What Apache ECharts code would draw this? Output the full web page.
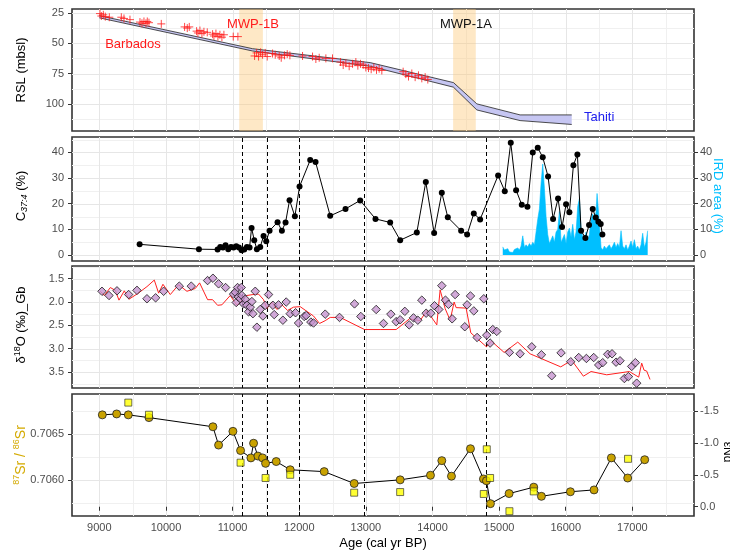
<!DOCTYPE html>
<html>
<head>
<meta charset="utf-8">
<script src="https://cdn.jsdelivr.net/npm/echarts@6/dist/echarts.min.js"></script>
<style>html,body{margin:0;padding:0;background:#fff}#main{width:730px;height:556px}</style>
</head>
<body>
<div id="main"></div>
<script>
// x axis
var ageTicks = [9000,10000,11000,12000,13000,14000,15000,16000,17000];
var ageMinor = [9500,10500,11500,12500,13500,14500,15500,16500,17500];
var mwpBands = [[11100,11455],[14310,14650]];
var dashAges = [11150,11520,12000,12980,14800];

// panel 1: relative sea level
var rslTicks = [25,50,75,100];
var rslMinor = [37.5,62.5,87.5,112.5];
var bandAge = [9000,11300,13065,14315,14666,15315,16090];
var bandTop = [27.2,54.5,66.0,82.5,100.1,109.2,109.2];
var bandBottom = [29.0,56.4,69.0,86.3,105.1,113.9,117.1];
var barbados = [
  [9010,25.5],[9030,27.5],[9060,26.5],[9090,28],[9150,28.5],[9330,28.5],[9370,29.5],[9460,30.5],
  [9610,32.5],[9640,33.5],[9670,32],[9700,33.5],[9720,32],[9745,33],[9930,34],[10280,36.5],
  [10320,37.5],[10350,36.5],[10460,40],[10480,41.5],[10510,39.5],[10540,42],[10570,40.5],[10620,41],
  [10700,42.5],[10720,44],[10750,42],[10780,44.5],[10810,43],[10840,45],[10870,43],[11010,44.5],[11080,44.5],
  [11330,60.5],[11360,58],[11390,61],[11420,57.5],[11450,59.5],[11490,58],[11520,61],[11600,58.5],
  [11640,59.5],[11700,60.5],[11730,62],[11780,60],[11820,59],[11860,60],[12050,60.5],[12200,61],
  [12250,63],[12300,62],[12400,62.5],[12500,62.5],[12620,65.5],[12660,68],[12700,66.5],[12750,69],
  [12800,67],[12850,65.5],[12880,68.5],[12920,67],[12960,68],[13000,70],[13040,70.5],[13080,71.5],
  [13120,70],[13160,72],[13200,71],[13240,72.5],[13560,73.5],[13600,75.5],[13640,77.5],[13690,75],
  [13740,78],[13790,76.5],[13840,79],[13890,78],[13930,80]
];

// panel 2: C37:4 and IRD
var pctTicks = [0,10,20,30,40];
var pctMinor = [5,15,25,35,45];
var c374 = [
  [9605,4.2],[10495,2.3],[10775,2.2],[10815,3.2],[10855,3.0],[10895,3.8],[10935,2.3],[10975,3.2],
  [11015,3.0],[11055,3.4],[11095,3.0],[11135,1.9],[11175,2.2],[11215,3.2],[11255,3.0],[11285,10.6],
  [11325,5.8],[11365,2.3],[11415,3.2],[11465,7.4],[11505,5.4],[11555,9.5],[11675,12.8],[11740,9.5],
  [11795,12.7],[11855,21.4],[11935,15.1],[12005,26.7],[12165,37.0],[12245,36.3],[12465,15.3],[12695,18.0],
  [12915,21.3],[13145,14.1],[13365,12.7],[13515,5.8],[13765,8.8],[13900,28.5],[14025,8.6],[14140,24.3],
  [14230,14.7],[14430,9.5],[14520,8.0],[14620,16.2],[14715,13.9],[14985,31.0],[15085,24.9],[15175,43.8],
  [15255,25.3],[15340,19.6],[15425,18.8],[15505,40.0],[15580,41.8],[15655,38.1],[15735,30.6],[15810,14.1],
  [15885,22.0],[15945,10.9],[16005,19.8],[16055,16.7],[16115,35.0],[16175,39.2],[16230,9.5],[16295,6.7],
  [16350,11.7],[16405,18.0],[16450,14.6],[16490,13.0],[16525,12.1],[16550,8.0]
];
var ird = [
  [15055,3.2],[15080,2.0],[15105,1.5],[15130,2.5],[15155,1.2],[15180,1.8],[15205,1.0],[15230,2.2],
  [15255,1.5],[15280,2.8],[15305,2.0],[15330,3.5],[15355,7.5],[15380,3.0],[15405,4.0],[15430,3.2],
  [15455,4.5],[15480,3.5],[15505,5.0],[15530,4.0],[15555,9.0],[15580,14.0],[15605,18.0],[15630,28.0],
  [15655,35.5],[15680,26.0],[15705,15.0],[15730,8.0],[15755,4.5],[15780,6.0],[15805,7.5],[15830,5.0],
  [15855,9.0],[15880,10.0],[15905,17.0],[15930,5.0],[15955,6.5],[15980,8.0],[16005,4.5],[16030,9.0],
  [16055,10.5],[16080,7.0],[16105,12.0],[16130,6.0],[16155,9.0],[16180,19.0],[16205,22.0],[16230,10.0],
  [16255,7.0],[16280,5.0],[16305,9.0],[16330,6.0],[16355,8.0],[16380,14.0],[16405,16.0],[16430,13.0],
  [16455,17.0],[16470,24.0],[16480,21.0],[16505,12.0],[16530,3.0],[16555,2.0],[16580,3.5],[16605,2.5],
  [16630,3.0],[16655,4.0],[16680,2.5],[16705,3.5],[16730,5.0],[16755,3.0],[16780,4.5],[16805,3.0],
  [16830,9.5],[16855,3.5],[16880,2.5],[16905,4.0],[16930,2.0],[16955,3.5],[16980,5.5],[17005,3.0],
  [17030,6.0],[17055,2.5],[17080,3.5],[17105,2.0],[17130,4.0],[17155,8.5],[17180,3.0],[17205,5.0],[17230,9.5]
];

// panel 3: d18O
var d18Ticks = [1.5,2.0,2.5,3.0,3.5];
var d18Minor = [1.25,1.75,2.25,2.75,3.25,3.75];
var d18Points = [
  [9040,1.77],[9145,1.86],[9265,1.76],[9440,1.84],[9565,1.75],[9715,1.93],[9845,1.91],[9965,1.77],
  [10200,1.66],[10380,1.66],[10625,1.54],[10705,1.49],[10790,1.61],[10895,1.69],[11015,1.83],[11040,1.79],
  [11075,1.69],[11130,1.69],[11055,2.01],[11085,1.89],[11115,1.93],[11140,1.86],[11165,2.04],[11190,1.94],
  [11215,2.07],[11240,2.21],[11265,2.11],[11290,1.99],[11305,2.25],[11340,1.77],[11365,2.54],[11415,2.16],
  [11455,2.30],[11490,2.07],[11540,1.84],[11605,2.07],[11625,2.27],[11690,2.06],[11755,2.39],[11805,2.00],
  [11865,2.25],[11945,2.23],[11990,2.45],[12075,2.31],[12105,2.29],[12175,2.43],[12215,2.45],[12390,2.26],
  [12605,2.33],[12830,2.04],[12925,2.31],[13155,2.16],[13265,2.46],[13375,2.26],[13455,2.42],[13515,2.38],
  [13585,2.20],[13650,2.49],[13715,2.34],[13780,2.39],[13840,1.96],[13905,2.24],[13975,2.24],[14030,2.08],
  [14095,2.16],[14140,1.65],[14195,1.96],[14240,2.05],[14295,2.36],[14340,1.84],[14485,2.53],[14520,2.06],
  [14570,1.87],[14620,2.19],[14670,2.76],[14770,1.93],[14815,2.71],[14865,2.88],[14905,2.59],[14965,2.63],
  [15155,3.08],[15315,3.11],[15490,2.96],[15635,3.13],[15790,3.58],[15930,3.09],[16075,3.28],[16195,3.19],
  [16310,3.21],[16420,3.19],[16495,3.35],[16555,3.30],[16630,3.12],[16695,3.11],[16755,3.29],[16815,3.26],
  [16880,3.64],[16940,3.60],[16990,3.38],[17045,3.30],[17065,3.74]
];
var d18Line = [
  [9015,1.77],[9075,1.86],[9165,1.69],[9240,1.75],[9295,1.96],[9375,1.76],[9445,1.94],[9575,1.82],
  [9715,1.67],[9825,1.53],[9890,1.81],[9955,1.62],[10065,1.84],[10190,1.63],[10315,1.77],[10440,1.71],
  [10505,1.59],[10625,1.95],[10700,1.95],[10775,2.07],[10840,2.06],[10965,1.86],[11065,2.07],[11125,1.98],
  [11215,1.86],[11305,1.84],[11390,1.83],[11465,1.95],[11515,2.14],[11590,2.00],[11665,2.16],[11740,2.06],
  [11825,2.18],[11915,2.11],[12015,2.10],[12115,2.20],[12215,2.30],[12305,2.46],[12390,2.40],[12465,2.33],
  [12615,2.33],[12980,2.59],[13215,2.59],[13455,2.59],[13655,2.36],[13815,2.40],[13915,2.18],[14065,2.49],
  [14115,1.74],[14190,2.14],[14265,2.39],[14325,2.00],[14355,2.12],[14505,2.13],[14575,2.66],[14810,2.96],
  [14885,2.84],[15075,3.08],[15280,2.86],[15465,3.11],[15925,3.39],[16090,3.25],[16265,3.59],[16380,3.49],
  [16615,3.56],[16955,3.49],[17095,3.61],[17140,3.31],[17175,3.46],[17215,3.48],[17265,3.66]
];

// panel 4: Sr isotopes and eNd
var srTicks = [0.7060,0.7065];
var srMinor = [0.70575,0.70625,0.70675];
var ndTicks = [-1.5,-1.0,-0.5,0.0];
var sr = [
  [9045,0.70671],[9260,0.70672],[9435,0.70671],[9745,0.70668],[10705,0.70658],[10790,0.70638],[11005,0.70653],
  [11120,0.70632],[11275,0.70624],[11315,0.70640],[11380,0.70626],[11450,0.70624],[11495,0.70618],[11655,0.70620],
  [11865,0.70611],[12375,0.70609],[12825,0.70596],[13515,0.70600],[13970,0.70605],[14140,0.70621],[14285,0.70604],
  [14570,0.70634],[14765,0.70601],[14810,0.70599],[14870,0.70574],[15150,0.70585],[15520,0.70592],[15635,0.70582],
  [16070,0.70587],[16425,0.70589],[16685,0.70624],[16930,0.70602],[17185,0.70622]
];
var nd = [
  [9435,-1.63],[9745,-1.44],[11120,-0.69],[11495,-0.45],[11865,-0.50],[12825,-0.22],[13515,-0.23],
  [14815,-0.90],[14770,-0.20],[14865,-0.45],[15155,0.07],[15520,-0.24],[16935,-0.75]
];

var font = 'Liberation Sans, Arial, sans-serif';
var grids = [
  {left:72, top:9, width:622, height:122},
  {left:72, top:137, width:622, height:124},
  {left:72, top:266, width:622, height:122},
  {left:72, top:394, width:622, height:122}
];
grids.forEach(function(g){ g.show = true; g.borderColor = '#333'; g.borderWidth = 1.6; g.backgroundColor = 'transparent'; });

var xAxes = [0,1,2,3].map(function(i){
  return {
    type:'value', gridIndex:i, min:8590, max:17925,
    axisLine:{show:false},
    axisTick:{show:i===3, customValues:ageTicks, length:4, lineStyle:{color:'#333'}},
    axisLabel:{show:i===3, customValues:ageTicks, color:'#4d4d4d', fontSize:11, margin:6,
      formatter:function(v){ return String(v); }},
    splitLine:{show:false}
  };
});

function yAxis(grid, min, max, ticks, inverse, fmt, pos){
  return {
    type:'value', gridIndex:grid, min:min, max:max, inverse:!!inverse, position:pos||'left',
    axisLine:{show:false},
    axisTick:{show:true, customValues:ticks, length:4, lineStyle:{color:'#333'}},
    axisLabel:{show:true, customValues:ticks, color:'#4d4d4d', fontSize:11, margin:pos==='right'?6:8, formatter:fmt},
    splitLine:{show:false}
  };
}
var fmt1 = function(v){ return v.toFixed(1); };
var fmt4 = function(v){ return v.toFixed(4); };

var yAxes = [
  yAxis(0, 21.7, 122.5, rslTicks, true),
  yAxis(1, -2.3, 46, pctTicks, false),
  yAxis(1, -2.3, 46, pctTicks, false, null, 'right'),
  yAxis(2, 1.228, 3.843, d18Ticks, true, fmt1),
  yAxis(3, 0.705605, 0.706938, srTicks, false, fmt4),
  yAxis(3, -1.765, 0.145, ndTicks, true, fmt1, 'right')
];

// background grid lines for each panel, drawn on the panel's own scales
function gridLines(i, yIdx, yMaj, yMin){
  var items = [];
  ageMinor.forEach(function(a){ items.push([a, yMaj[0], 1]); });
  yMin.forEach(function(v){ items.push([ageTicks[0], v, 3]); });
  ageTicks.forEach(function(a){ items.push([a, yMaj[0], 0]); });
  yMaj.forEach(function(v){ items.push([ageTicks[0], v, 2]); });
  return {
    type:'custom', xAxisIndex:i, yAxisIndex:yIdx, z:0, silent:true, clip:true,
    data: items,
    renderItem:function(params, api){
      var cs = params.coordSys;
      var kind = api.value(2);
      var p = api.coord([api.value(0), api.value(1)]);
      var color = (kind === 0 || kind === 2) ? '#e6e6e6' : '#f0f0f0';
      var shape;
      if (kind < 2) {
        var x = Math.round(p[0]) + 0.5;
        if (x < cs.x || x > cs.x + cs.width) return null;
        shape = {x1:x, y1:cs.y, x2:x, y2:cs.y + cs.height};
      } else {
        var y = Math.round(p[1]) + 0.5;
        if (y < cs.y || y > cs.y + cs.height) return null;
        shape = {x1:cs.x, y1:y, x2:cs.x + cs.width, y2:y};
      }
      return {type:'line', shape:shape, style:{stroke:color, lineWidth:1}};
    }
  };
}

function dashes(){
  return {silent:true, z:3, symbol:'none', label:{show:false},
    lineStyle:{type:[4,3], color:'#000', width:1},
    data: dashAges.map(function(a){ return {xAxis:a}; })};
}

var series = [
  gridLines(0, 0, rslTicks, rslMinor),
  gridLines(1, 1, pctTicks, pctMinor),
  gridLines(2, 3, d18Ticks, d18Minor),
  gridLines(3, 4, srTicks, srMinor),
  {
    name:'tahitiFill', type:'custom', xAxisIndex:0, yAxisIndex:0, z:2,
    data:[[bandAge[0], bandTop[0]]],
    renderItem:function(params, api){
      var pts = [];
      for (var i = 0; i < bandAge.length; i++) pts.push(api.coord([bandAge[i], bandTop[i]]));
      for (var j = bandAge.length - 1; j >= 0; j--) pts.push(api.coord([bandAge[j], bandBottom[j]]));
      return {type:'polygon', shape:{points:pts}, style:{fill:'#c6c6f2', stroke:'none'}};
    },
    markArea:{silent:true, z:1, itemStyle:{color:'rgba(252,200,120,0.42)'},
      data: mwpBands.map(function(b){ return [{xAxis:b[0]},{xAxis:b[1]}]; })}
  },
  {
    name:'tahitiTop', type:'line', xAxisIndex:0, yAxisIndex:0, symbol:'none', z:3,
    lineStyle:{color:'#222', width:0.8},
    data: bandAge.map(function(a,i){ return [a, bandTop[i]]; })
  },
  {
    name:'tahitiBottom', type:'line', xAxisIndex:0, yAxisIndex:0, symbol:'none', z:3,
    lineStyle:{color:'#222', width:0.8},
    data: bandAge.map(function(a,i){ return [a, bandBottom[i]]; })
  },
  {
    name:'Barbados', type:'scatter', xAxisIndex:0, yAxisIndex:0, z:4,
    symbol:'path://M0,5L10,5M5,0L5,10', symbolSize:8,
    itemStyle:{color:'#ff1a1a', borderColor:'#ff1a1a', borderWidth:1},
    data: barbados
  },
  {
    name:'IRD', type:'line', xAxisIndex:1, yAxisIndex:2, symbol:'none', z:2,
    lineStyle:{color:'#00bfff', width:0.6},
    areaStyle:{color:'#00bfff', opacity:1},
    data: ird
  },
  {
    name:'C37:4', type:'line', xAxisIndex:1, yAxisIndex:1, symbol:'circle', symbolSize:6, z:4,
    itemStyle:{color:'#000'}, lineStyle:{color:'#000', width:1},
    data: c374, markLine: dashes()
  },
  {
    name:'d18O line', type:'line', xAxisIndex:2, yAxisIndex:3, symbol:'none', z:4,
    lineStyle:{color:'#ff2020', width:1},
    data: d18Line, markLine: dashes()
  },
  {
    name:'d18O', type:'scatter', xAxisIndex:2, yAxisIndex:3, symbol:'rect', symbolRotate:45, symbolSize:6, z:5,
    itemStyle:{color:'#c795cf', borderColor:'#111', borderWidth:0.9},
    data: d18Points
  },
  {
    name:'Sr', type:'line', xAxisIndex:3, yAxisIndex:4, symbol:'circle', symbolSize:8, z:4,
    itemStyle:{color:'#c9a200', borderColor:'#222', borderWidth:0.8},
    lineStyle:{color:'#000', width:1},
    data: sr, markLine: dashes()
  },
  {
    name:'eNd', type:'scatter', xAxisIndex:3, yAxisIndex:5, symbol:'rect', symbolSize:7, z:5,
    itemStyle:{color:'#ffff00', borderColor:'#222', borderWidth:0.8},
    data: nd
  }
];

function txt(x, y, text, color, size, rot, rich, align){
  return {type:'text', x:x, y:y, rotation:rot||0, z:100,
    style:{text:text, fill:color, font:size+'px '+font, fontSize:size, fontFamily:font,
      align:align||'center', verticalAlign:'middle', rich:rich}};
}
var richSub = {
  n:{fontSize:13, fontFamily:font, fill:'#000', lineHeight:16},
  s:{fontSize:9, fontFamily:font, fontStyle:'italic', fill:'#000', lineHeight:8, verticalAlign:'bottom'}
};
var richSup = {
  n:{fontSize:13, fontFamily:font, fill:'#000', lineHeight:16},
  p:{fontSize:9, fontFamily:font, fill:'#000', lineHeight:8, verticalAlign:'top'}
};
var richSr = {
  n:{fontSize:14, fontFamily:font, fill:'#d4aa00', lineHeight:17},
  p:{fontSize:9, fontFamily:font, fill:'#d4aa00', lineHeight:8, verticalAlign:'top'}
};

var graphics = [
  txt(21, 70, 'RSL (mbsl)', '#000', 13, Math.PI/2),
  txt(21, 196, '{n|C}{s|37:4}{n| (%)}', '#000', 13, Math.PI/2, richSub),
  txt(21, 325, '{n|δ}{p|18}{n|O (‰)_Gb}', '#000', 13, Math.PI/2, richSup),
  txt(21, 455, '{p|87}{n|Sr / }{p|86}{n|Sr}', '#d4aa00', 14, Math.PI/2, richSr),
  txt(718, 196, 'IRD area (%)', '#00bfff', 13, -Math.PI/2),
  txt(727, 452, 'εNd', '#000', 12, -Math.PI/2),
  txt(383, 543, 'Age (cal yr BP)', '#000', 13, 0),
  txt(253, 24, 'MWP-1B', '#ff1a1a', 13, 0),
  txt(133, 44, 'Barbados', '#ff1a1a', 13, 0),
  txt(466, 24, 'MWP-1A', '#111', 13, 0),
  txt(584, 117, 'Tahiti', '#2020ee', 13, 0, null, 'left')
];

var chart = echarts.init(document.getElementById('main'));
chart.setOption({
  animation:false,
  backgroundColor:'#fff',
  textStyle:{fontFamily:font},
  grid:grids,
  xAxis:xAxes,
  yAxis:yAxes,
  series:series,
  graphic:graphics
});
</script>
</body>
</html>
